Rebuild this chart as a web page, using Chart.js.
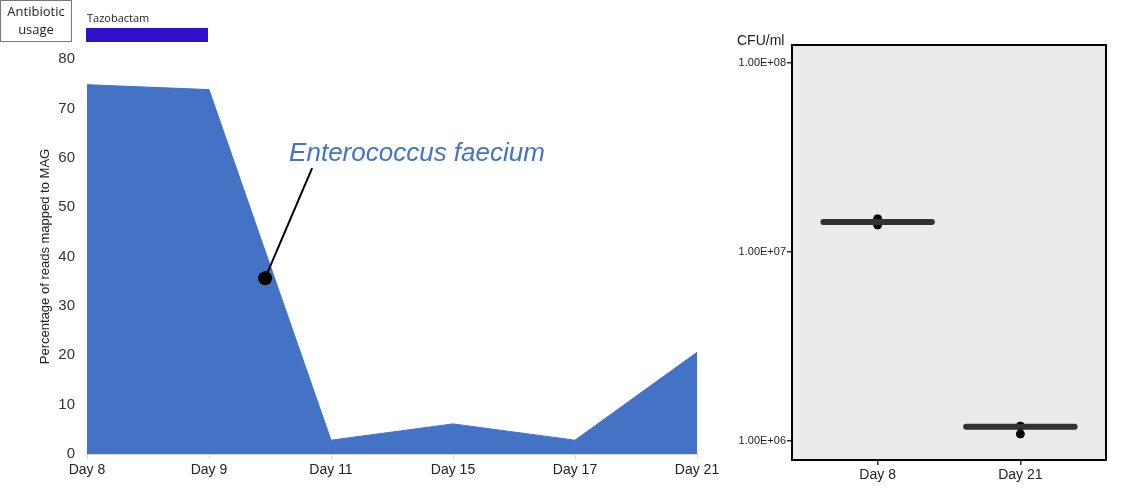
<!DOCTYPE html>
<html lang="en">
<head>
<meta charset="UTF-8">
<title>Enterococcus faecium</title>
<style>
    body { margin: 0; background: #fff; }
    .panel { position: absolute; top: 0; height: 488px; }
    #leftBox { left: 0; width: 725px; }
    #rightBox { left: 725px; width: 405px; }
</style>
<script src="https://cdn.jsdelivr.net/npm/chart.js"></script>
</head>
<body>
<div class="panel" id="leftBox"><canvas id="areaChart"></canvas></div>
<div class="panel" id="rightBox"><canvas id="cfuChart"></canvas></div>
<script>
// left panel: reads mapped to MAG
const days = ['Day 8', 'Day 9', 'Day 11', 'Day 15', 'Day 17', 'Day 21'];
const pctReads = [74.8, 73.8, 2.8, 6.1, 2.8, 20.6];
const yTicks = [0, 10, 20, 30, 40, 50, 60, 70, 80];
const drugName = 'Tazobactam';
const drugDays = ['Day 8', 'Day 9'];
const labelAnchor = [1.46, 35.6]; // category index, percent

// right panel: CFU/ml
const cfuDays = ['Day 8', 'Day 21'];
const cfuMean = [1.44e7, 1.19e6];
const cfuReps = [[1.50e7, 1.39e7], [1.20e6, 1.09e6]];
const cfuTicks = [1e6, 1e7, 1e8];

const sans = '"Liberation Sans", Arial, sans-serif';

const leftExtras = {
    id: 'leftExtras',
    afterDraw(chart) {
        const ctx = chart.ctx;
        const x = chart.scales.x, y = chart.scales.y;
        ctx.save();
        // antibiotic usage box
        ctx.strokeStyle = '#777';
        ctx.lineWidth = 1;
        ctx.strokeRect(0.5, 0.5, 71, 41);
        ctx.fillStyle = '#222';
        ctx.font = '13px "Open Sans", sans-serif';
        ctx.textAlign = 'center';
        ctx.fillText('Antibiotic', 36, 16);
        ctx.fillText('usage', 36, 34);
        // drug bar
        const x0 = x.getPixelForValue(days.indexOf(drugDays[0]));
        const x1 = x.getPixelForValue(days.indexOf(drugDays[1]));
        ctx.textAlign = 'left';
        ctx.font = '11px "Open Sans", sans-serif';
        ctx.fillText(drugName, x0, 22);
        ctx.fillStyle = '#3010c8';
        ctx.fillRect(x0 - 1, 28, x1 - x0, 14);
        // species label
        const px = x.getPixelForValue(labelAnchor[0]);
        const py = y.getPixelForValue(labelAnchor[1]);
        ctx.strokeStyle = '#000';
        ctx.lineWidth = 2;
        ctx.beginPath();
        ctx.moveTo(px, py);
        ctx.lineTo(px + 47, py - 110);
        ctx.stroke();
        ctx.fillStyle = '#000';
        ctx.beginPath();
        ctx.arc(px, py, 7, 0, Math.PI * 2);
        ctx.fill();
        ctx.fillStyle = '#4472c4';
        ctx.font = 'italic 26px ' + sans;
        ctx.fillText('Enterococcus faecium', px + 24, py - 117);
        ctx.restore();
    }
};

new Chart(document.getElementById('areaChart'), {
    type: 'line',
    data: {
        labels: days,
        datasets: [{
            data: pctReads,
            backgroundColor: '#4472c4',
            borderColor: '#4472c4',
            borderWidth: 1,
            fill: 'origin',
            pointRadius: 0,
            tension: 0
        }]
    },
    options: {
        responsive: true,
        maintainAspectRatio: false,
        animation: false,
        layout: { padding: { top: 59, right: 28, left: 38, bottom: 0 } },
        plugins: { legend: { display: false }, tooltip: { enabled: false } },
        scales: {
            x: {
                offset: false,
                grid: { drawOnChartArea: false, tickLength: 5, color: '#d9d9d9' },
                border: { color: '#d9d9d9', width: 2 },
                ticks: { color: '#222', font: { family: sans, size: 14 }, padding: 3, maxRotation: 0 },
                afterFit: s => { s.height = 34; }
            },
            y: {
                min: 0,
                max: 80,
                afterBuildTicks: s => { s.ticks = yTicks.map(v => ({ value: v })); },
                grid: { display: false, drawTicks: false },
                border: { display: false },
                ticks: { color: '#333', font: { family: sans, size: 15 }, padding: 12 },
                title: {
                    display: true,
                    text: 'Percentage of reads mapped to MAG',
                    color: '#222',
                    font: { family: sans, size: 13 },
                    padding: 0
                },
                afterFit: s => { s.width = 49; }
            }
        }
    },
    plugins: [leftExtras]
});

const rightExtras = {
    id: 'rightExtras',
    beforeDraw(chart) {
        const a = chart.chartArea, ctx = chart.ctx;
        ctx.save();
        ctx.fillStyle = '#ebebeb';
        ctx.fillRect(a.left, a.top, a.right - a.left, a.bottom - a.top);
        ctx.restore();
    },
    afterDraw(chart) {
        const a = chart.chartArea, ctx = chart.ctx;
        ctx.save();
        ctx.strokeStyle = '#000';
        ctx.lineWidth = 2;
        ctx.strokeRect(a.left, a.top, a.right - a.left, a.bottom - a.top);
        ctx.fillStyle = '#222';
        ctx.font = '14px ' + sans;
        ctx.textAlign = 'left';
        ctx.fillText('CFU/ml', 12, 45);
        ctx.restore();
    }
};

const halfWidth = 0.38;
const cfuSets = [];
cfuMean.forEach((m, i) => {
    cfuSets.push({
        type: 'line',
        data: [{ x: i + 1 - halfWidth, y: m }, { x: i + 1 + halfWidth, y: m }],
        borderColor: '#333',
        borderWidth: 6,
        borderCapStyle: 'round',
        pointRadius: 0
    });
});
cfuSets.push({
    type: 'scatter',
    data: cfuReps.flatMap((reps, i) => reps.map(v => ({ x: i + 1, y: v }))),
    backgroundColor: '#000',
    borderColor: '#000',
    pointRadius: 4
});

new Chart(document.getElementById('cfuChart'), {
    type: 'scatter',
    data: { datasets: cfuSets },
    options: {
        responsive: true,
        maintainAspectRatio: false,
        animation: false,
        layout: { padding: { top: 45, right: 24, left: 0, bottom: 0 } },
        plugins: { legend: { display: false }, tooltip: { enabled: false } },
        scales: {
            x: {
                type: 'linear',
                min: 0.4,
                max: 2.6,
                afterBuildTicks: s => { s.ticks = cfuDays.map((d, i) => ({ value: i + 1 })); },
                grid: { drawOnChartArea: false, tickLength: 5, color: '#333', lineWidth: 1.5 },
                border: { display: false },
                ticks: {
                    color: '#222',
                    font: { family: sans, size: 14 },
                    padding: 2,
                    callback: v => cfuDays[v - 1]
                },
                afterFit: s => { s.height = 28; }
            },
            y: {
                type: 'logarithmic',
                min: 7.94e5,
                max: 1.245e8,
                afterBuildTicks: s => { s.ticks = cfuTicks.map(v => ({ value: v })); },
                grid: { drawOnChartArea: false, tickLength: 5, color: '#333', lineWidth: 1.5 },
                border: { display: false },
                ticks: {
                    color: '#222',
                    font: { family: sans, size: 11 },
                    padding: 1,
                    callback: v => '1.00E+0' + Math.round(Math.log10(v))
                },
                afterFit: s => { s.width = 67; }
            }
        }
    },
    plugins: [rightExtras]
});
</script>
</body>
</html>
